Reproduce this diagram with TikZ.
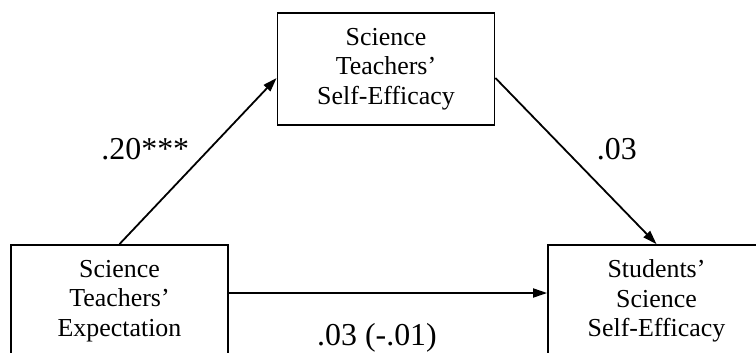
\documentclass[tikz,border=0pt]{standalone}
\usepackage{fontspec}
\setmainfont{Liberation Serif}
\usetikzlibrary{arrows.meta}

\tikzset{
  varbox/.style={draw, line width=1.8bp, minimum width=217bp, minimum height=112bp,
    align=center, inner sep=0pt, font=\fontsize{26}{29.5}\selectfont},
  arr/.style={line width=1.8bp, -{Triangle[length=14bp,width=9bp]}},
  coef/.style={inner sep=0pt, font=\fontsize{32}{36}\selectfont}
}

\begin{document}
\begin{tikzpicture}[x=1bp, y=-1bp]
\useasboundingbox (0,0) rectangle (756,352);

\node [varbox] (ste) at (119.5,301) {Science\\Teachers'\\Expectation};
\node [varbox] (stse) at (386,69) {Science\\Teachers'\\Self-Efficacy};
\node [varbox] (sse) at (656.5,301) {Students'\\Science\\Self-Efficacy};

%\draw [dashed] (ste.north) -- (sse.north);

\draw [arr] (ste.north) -- ([yshift=-9bp]stse.west)
  node [coef, midway, anchor=south east, xshift=-8bp] {.20***};
\draw [arr] ([yshift=-9bp]stse.east) -- (sse.north)
  node [coef, midway, anchor=south west, xshift=20bp] {.03};
\draw [arr] ([yshift=8bp]ste.east) -- ([yshift=8bp]sse.west)
  node [coef, midway, anchor=base, xshift=-11bp, yshift=-52bp] {.03 (-.01)};
\end{tikzpicture}
\end{document}
